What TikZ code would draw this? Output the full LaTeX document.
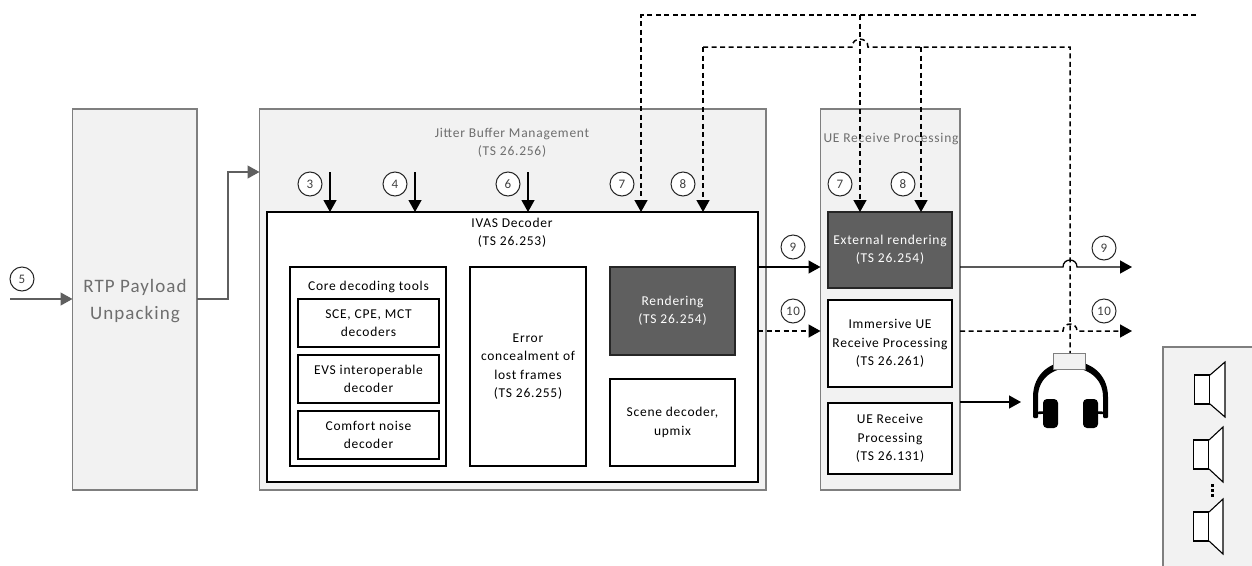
\documentclass[tikz,border=0pt]{standalone}
\usepackage{fontspec}
\setmainfont[LetterSpace=5.5]{Carlito}
\usetikzlibrary{arrows.meta,calc}
\definecolor{panel}{HTML}{F2F2F2}
\definecolor{edge}{HTML}{7F7F7F}
\definecolor{dark}{HTML}{5F5F5F}
\definecolor{gtxt}{HTML}{6E6E6E}
\tikzset{
  x=1pt,y=-1pt,
  every node/.style={font=\fontsize{13.5}{18.3}\selectfont,align=center,inner sep=0pt,outer sep=0pt},
  panelbox/.style={draw=edge,fill=panel,line width=1.2pt,anchor=north west,text=gtxt},
  whitebox/.style={draw=black,fill=white,line width=1.3pt,anchor=north west},
  darkbox/.style={draw=black!85,fill=dark,line width=1.3pt,anchor=north west,text=white},
  tag/.style={circle,draw=black!85,fill=white,line width=1pt,minimum size=24pt,font=\fontsize{13}{14}\selectfont,text=black!75},
  wire/.style={line width=1.3pt,draw=black,-{Triangle[length=12pt,width=13pt]}},
  plain/.style={line width=1.3pt,draw=black},
  gwire/.style={line width=1.3pt,draw=dark,-{Triangle[length=12pt,width=13pt,fill=dark]}},
  dashline/.style={line width=1.5pt,dash pattern=on 5pt off 3.5pt},
  spk/.style={draw=black,fill=white,line width=1.1pt},
}
\begin{document}
\begin{tikzpicture}
\useasboundingbox (0,0) rectangle (1252,565);
% panels
\node[panelbox,minimum width=124.5pt,minimum height=381pt] (rtp) at (72.5,109) {};
\node[text=gtxt,font=\fontsize{19}{27}\selectfont] (rtpl) at (135,301.5) {RTP Payload\\Unpacking};
\node[panelbox,minimum width=506.5pt,minimum height=381pt] (jbm) at (259.5,109) {};
\node[text=gtxt] (jbml) at (512,143) {Jitter Buffer Management\\(TS 26.256)};
\node[panelbox,minimum width=139.5pt,minimum height=381pt] (ue) at (820.5,109) {};
\node[text=gtxt] (uel) at (891,139) {UE Receive Processing};
\node[panelbox,minimum width=95pt,minimum height=225pt] (spkp) at (1163,347) {};
% decoder
\node[whitebox,minimum width=491pt,minimum height=270pt] (ivas) at (267,212) {};
\node (ivasl) at (512,233) {IVAS Decoder\\(TS 26.253)};
\node[whitebox,minimum width=156pt,minimum height=199pt] (core) at (290,267) {};
\node (corel) at (368.5,287) {Core decoding tools};
\node[whitebox,minimum width=141pt,minimum height=48pt] (sce) at (298,299) {\vspace*{2pt}SCE, CPE, MCT\\decoders};
\node[whitebox,minimum width=141pt,minimum height=48pt] (evs) at (298,355) {\vspace*{2pt}EVS interoperable\\decoder};
\node[whitebox,minimum width=141pt,minimum height=48pt] (cng) at (298,411) {\vspace*{2pt}Comfort noise\\decoder};
\node[whitebox,minimum width=116pt,minimum height=199pt] (err) at (470,267) {\vspace*{5pt}Error\\concealment of\\lost frames\\(TS 26.255)};
\node[darkbox,minimum width=125pt,minimum height=88pt] (rend) at (610,267) {\vspace*{4pt}Rendering\\(TS 26.254)};
\node[whitebox,minimum width=125pt,minimum height=87pt] (scene) at (610,379) {\vspace*{2pt}Scene decoder,\\upmix};
% UE
\node[darkbox,minimum width=124pt,minimum height=76pt] (ext) at (828,212) {\vspace*{2pt}External rendering\\(TS 26.254)};
\node[whitebox,minimum width=124pt,minimum height=87pt] (imm) at (828,300) {\vspace*{2pt}Immersive UE\\Receive Processing\\(TS 26.261)};
\node[whitebox,minimum width=124pt,minimum height=71pt] (rcv) at (828,403) {\vspace*{1pt}UE Receive\\Processing\\(TS 26.131)};
% headphones
\fill[black,rounded corners=1pt] (1033,418) -- (1033,398) .. controls (1033,349) and (1108,349) .. (1108,398) -- (1108,418) -- (1103,418) -- (1103,398) .. controls (1103,358) and (1038,358) .. (1038,398) -- (1038,418) -- cycle;
\draw[line width=2.6pt] (1035,413) -- (1045,412.5) (1106,413) -- (1096,412.5);
\node[fill=black,rounded corners=4pt,minimum width=15pt,minimum height=29pt,anchor=north west] (cupl) at (1043,399) {};
\node[fill=black,rounded corners=4pt,minimum width=15pt,minimum height=29pt,anchor=north west] (cupr) at (1083,399) {};
\node[draw=edge,fill=panel,line width=1pt,minimum width=32pt,minimum height=16pt,anchor=north west] (hp) at (1053,353) {};
% speakers
\draw[spk] (1194.5,375) rectangle (1210,404);
\draw[spk] (1210,375) -- (1225,362) -- (1225,417) -- (1210,404);
\draw[spk] (1193.5,440) rectangle (1209,469);
\draw[spk] (1209,440) -- (1223,427) -- (1223,482) -- (1209,469);
\draw[spk] (1193.5,512) rectangle (1209,541);
\draw[spk] (1209,512) -- (1223,499) -- (1223,554) -- (1209,541);
\draw[line width=2.6pt,dash pattern=on 2.6pt off 2.6pt] (1212.5,484) -- (1212.5,499);
% coordinates
\coordinate (in5) at (10,299);
\coordinate (up) at (228,172);
\coordinate (t3) at (330,172);
\coordinate (t4) at (415,172);
\coordinate (t6) at (528,172);
\coordinate (a7) at (641,15);
\coordinate (a8) at (703,47);
\coordinate (b7) at (860,15);
\coordinate (b8) at (921,47);
\coordinate (src) at (1196,15);
\coordinate (r8) at (1070,47);
\coordinate (o9) at (1132,267);
\coordinate (o10) at (1132,331);
\coordinate (ohp) at (1021,402);
% grey wires
\draw[gwire] (in5) -- (rtp.west |- in5);
\draw[gwire] (rtp.east |- in5) -| (up) -- (jbm.west |- up);
% solid input arrows
\draw[wire] (t3) -- (ivas.north -| t3);
\draw[wire] (t4) -- (ivas.north -| t4);
\draw[wire] (t6) -- (ivas.north -| t6);
% dashed top lines
\draw[wire,dashline] (src) -- (a7) -- (ivas.north -| a7);
\draw[wire,dashline] (b7) -- (ext.north -| b7);
\draw[plain,dashline] (a8) -- (852,47) .. controls (852,36.5) and (868,36.5) .. (868,47) -- (r8) -- (hp.north -| r8);
\draw[wire,dashline] (a8) -- (ivas.north -| a8);
\draw[wire,dashline] (b8) -- (ext.north -| b8);
% outputs
\draw[wire] (ivas.east |- o9) -- (ue.west |- o9);
\draw[wire,dashline] (ivas.east |- o10) -- (ue.west |- o10);
\draw[wire] (ue.east |- o9) -- (1063,267) .. controls (1063,257.7) and (1077,257.7) .. (1077,267) -- (o9);
\draw[wire,dashline] (ue.east |- o10) -- (1063,331) .. controls (1063,321.7) and (1077,321.7) .. (1077,331) -- (o10);
\draw[wire] (ue.east |- ohp) -- (ohp);
% tags
\node[tag] (n5) at (22,279) {5};
\node[tag] (n3) at (310,184) {3};
\node[tag] (n4) at (395,184) {4};
\node[tag] (n6) at (508,184) {6};
\node[tag] (n7) at (622,184) {7};
\node[tag] (n8) at (683,184) {8};
\node[tag] (m7) at (840,184) {7};
\node[tag] (m8) at (903,184) {8};
\node[tag] (n9) at (793,247) {9};
\node[tag] (n10) at (793,311) {10};
\node[tag] (m9) at (1104,248) {9};
\node[tag] (m10) at (1104,311) {10};
\end{tikzpicture}
\end{document}
